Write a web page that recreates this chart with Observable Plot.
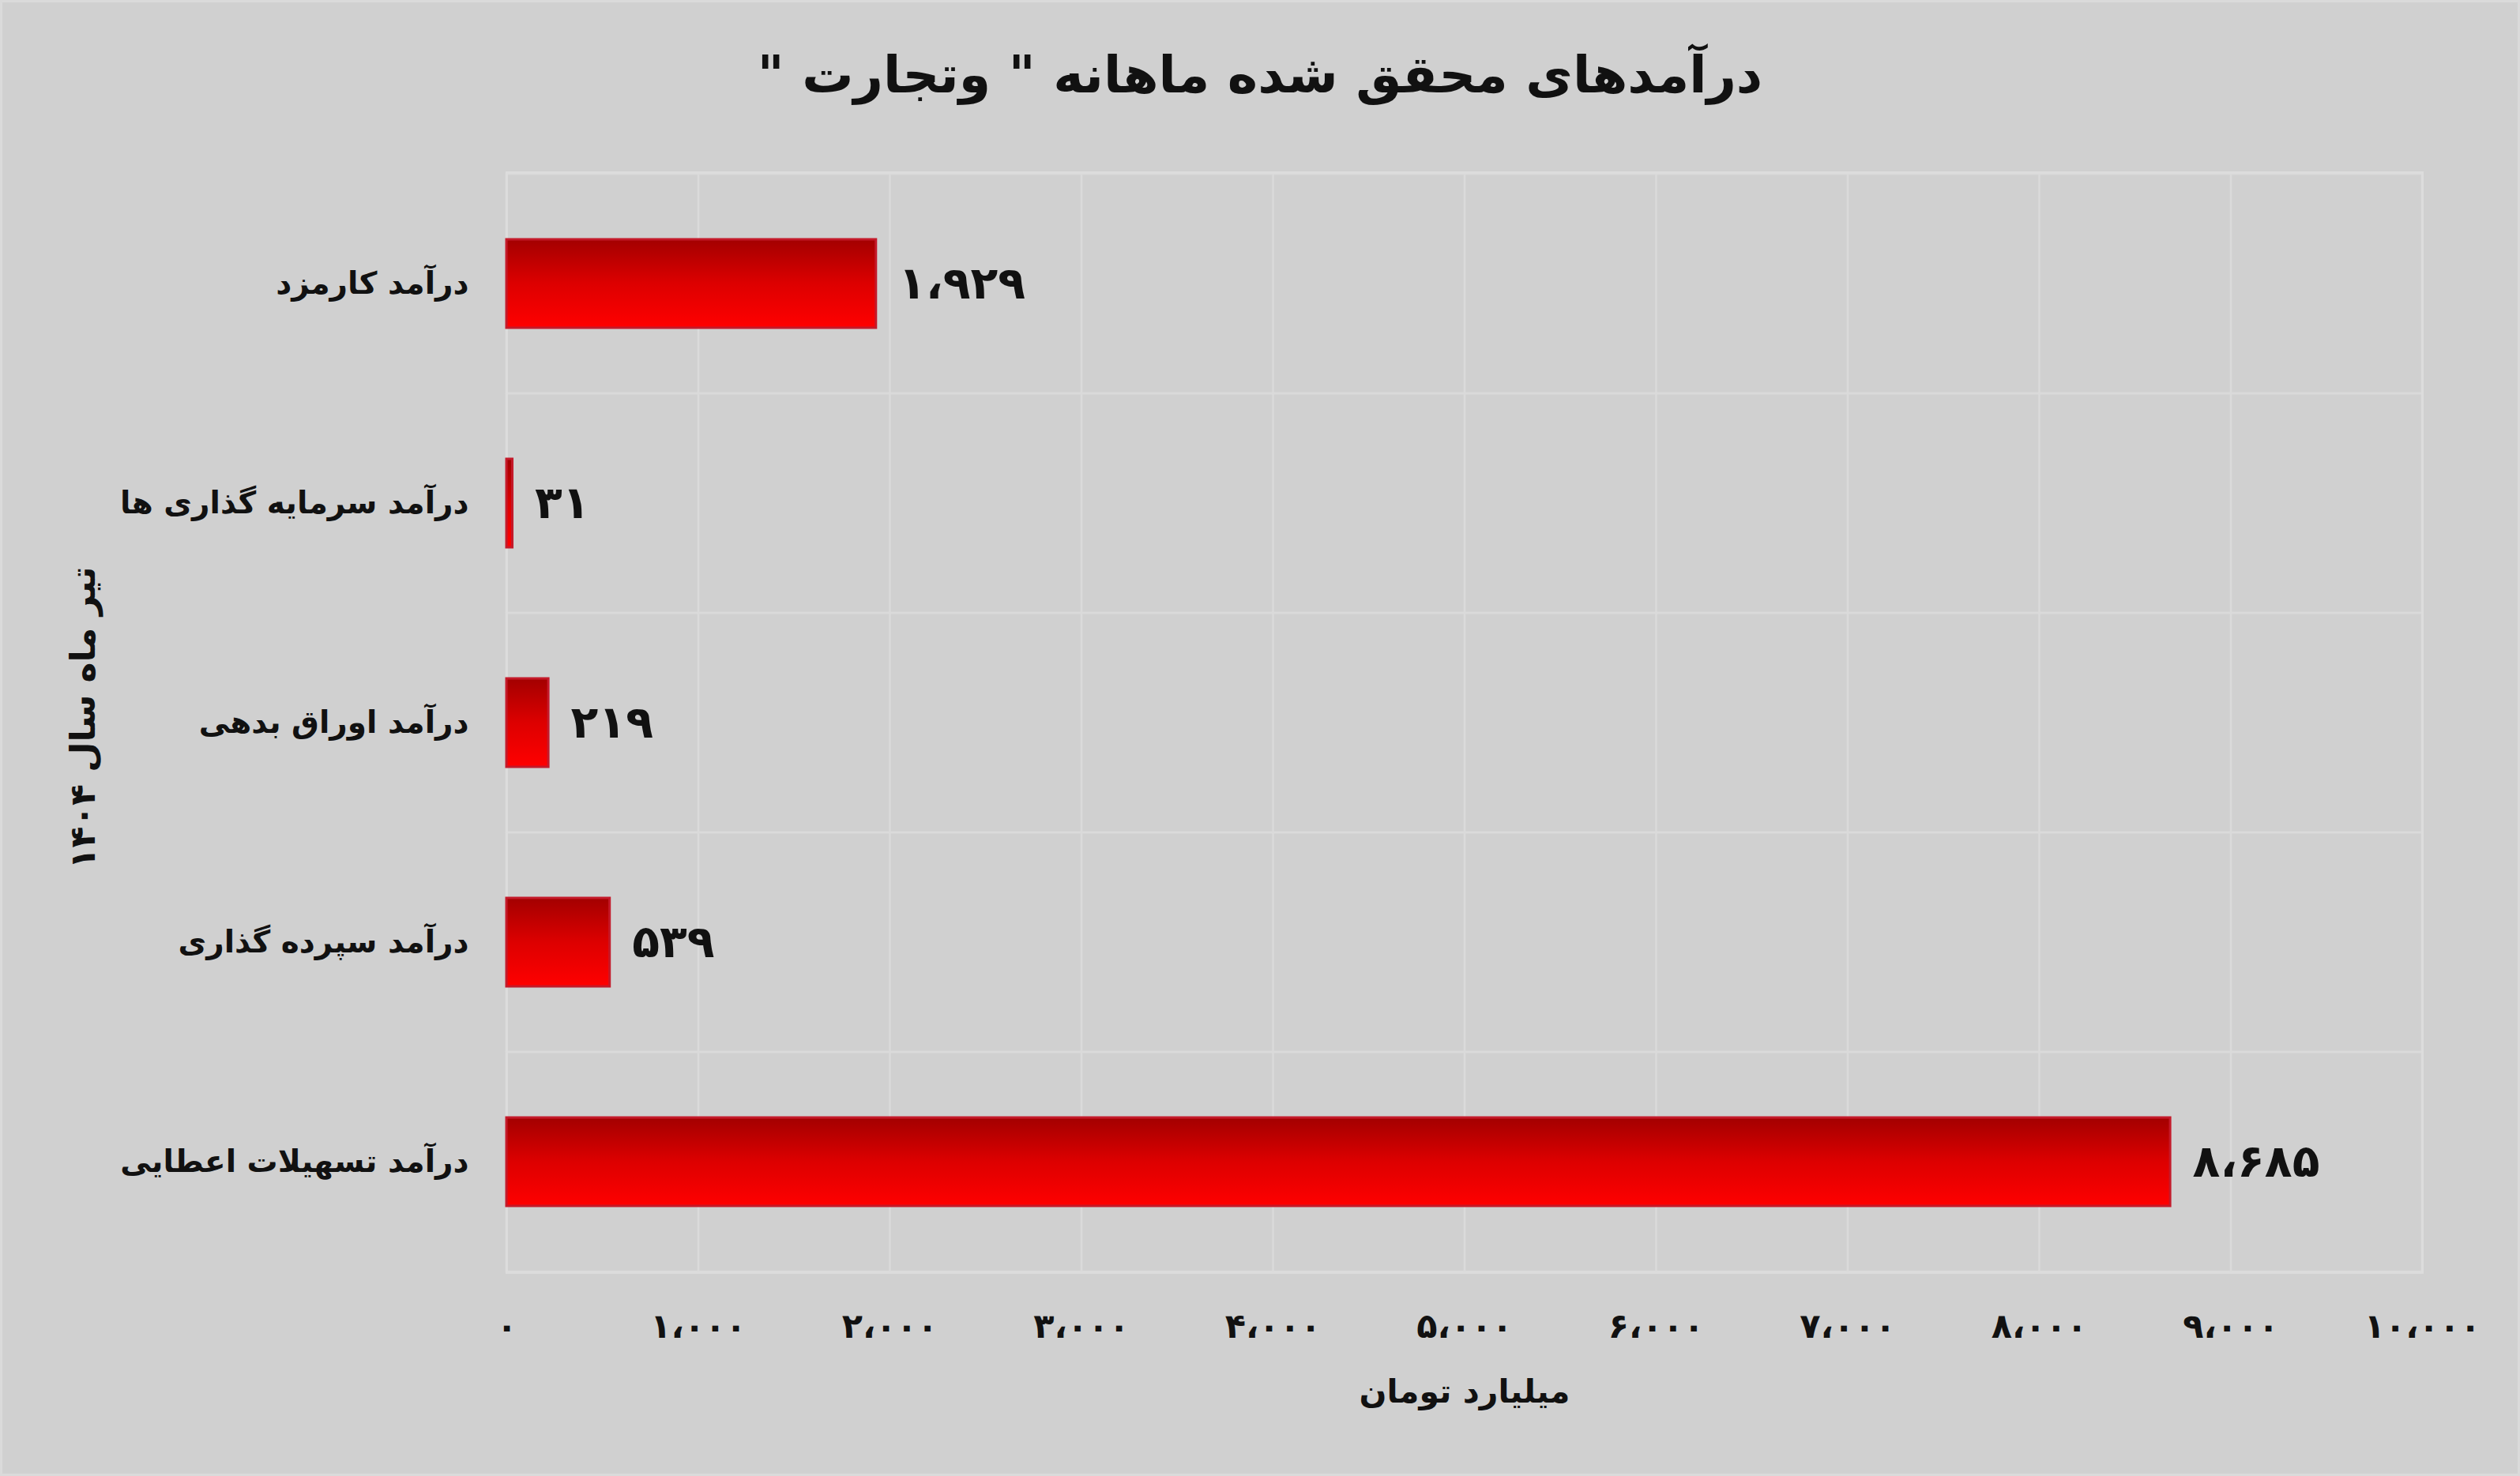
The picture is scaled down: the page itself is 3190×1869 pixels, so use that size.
<!DOCTYPE html>
<html><head><meta charset="utf-8">
<script src="https://cdn.jsdelivr.net/npm/d3@7"></script>
<script src="https://cdn.jsdelivr.net/npm/@observablehq/plot@0.6"></script>
<style>
html,body{margin:0;padding:0;background:#d0d0d0;}
#chart{width:3190px;height:1869px;position:relative;background:#d0d0d0;box-shadow:inset 0 0 0 3px #dadada;font-family:"DejaVu Sans",sans-serif;overflow:hidden;}
#title{height:190px;line-height:190px;text-align:center;font-size:65px;font-weight:bold;color:#111;}
svg{display:block;}
</style></head><body>
<div id="chart"><div id="title" dir="rtl"></div></div>
<script>
const titleText = 'درآمدهای محقق شده ماهانه " وتجارت "';
const categories = ["درآمد کارمزد", "درآمد سرمایه گذاری ها", "درآمد اوراق بدهی", "درآمد سپرده گذاری", "درآمد تسهیلات اعطایی"];
const values = [1929, 31, 219, 539, 8685];
const xTicks = [0, 1000, 2000, 3000, 4000, 5000, 6000, 7000, 8000, 9000, 10000];
const xLabel = "میلیارد تومان";
const yLabel = "تیر ماه سال ۱۴۰۴";

const faDigits = "۰۱۲۳۴۵۶۷۸۹";
const toFa = n => d3.format(",")(n).replace(/\d/g, d => faDigits[d]).replace(/,/g, "،");

const data = categories.map((c, i) => ({cat: c, value: values[i]}));

document.getElementById("title").textContent = titleText;

const plot = Plot.plot({
  width: 3190,
  height: 1679,
  marginTop: 28,
  marginBottom: 258,
  marginLeft: 641,
  marginRight: 124,
  style: {fontFamily: "DejaVu Sans, sans-serif", background: "transparent", color: "#111"},
  x: {domain: [0, 10000]},
  y: {domain: categories, padding: 0},
  marks: [
    Plot.gridX(xTicks, {stroke: "#dadada", strokeOpacity: 1, strokeWidth: 2.5}),
    Plot.barX(categories, {y: d => d, x1: () => 0, x2: () => 10000, fill: "none", stroke: "#dadada", strokeWidth: 2.5}),
    Plot.frame({stroke: "#dcdcdc", strokeWidth: 3}),
    Plot.barX(data, {x: "value", y: "cat", fill: "url(#barGrad)", stroke: "#c41a2a", strokeWidth: 3, insetTop: 83, insetBottom: 83}),
    Plot.text(data, {x: "value", y: "cat", text: d => toFa(d.value), textAnchor: "start", dx: 28, fontSize: 57, fontWeight: "bold", fill: "#111"}),
    Plot.axisX(xTicks, {tickSize: 0, tickPadding: 52, tickFormat: toFa, fontSize: 43, fontWeight: "bold", label: null}),
    Plot.axisY({tickSize: 0, tickPadding: 48, fontSize: 39, fontWeight: "bold", label: null}),
    Plot.text([xLabel], {frameAnchor: "bottom", text: d => d, dy: 164, fontSize: 41, fontWeight: "bold", fill: "#111"}),
    Plot.text([yLabel], {frameAnchor: "left", textAnchor: "middle", text: d => d, rotate: -90, dx: -536, dy: -6, fontSize: 44, fontWeight: "bold", fill: "#111"})
  ]
});

const ns = "http://www.w3.org/2000/svg";
const defs = document.createElementNS(ns, "defs");
const grad = document.createElementNS(ns, "linearGradient");
grad.setAttribute("id", "barGrad");
grad.setAttribute("x1", "0"); grad.setAttribute("y1", "0");
grad.setAttribute("x2", "0"); grad.setAttribute("y2", "1");
[[0, "#a30000"], [0.5, "#dd0000"], [1, "#ff0000"]].forEach(([o, c]) => {
  const s = document.createElementNS(ns, "stop");
  s.setAttribute("offset", o);
  s.setAttribute("stop-color", c);
  grad.appendChild(s);
});
defs.appendChild(grad);
plot.insertBefore(defs, plot.firstChild);

document.getElementById("chart").appendChild(plot);
</script>
</body></html>
